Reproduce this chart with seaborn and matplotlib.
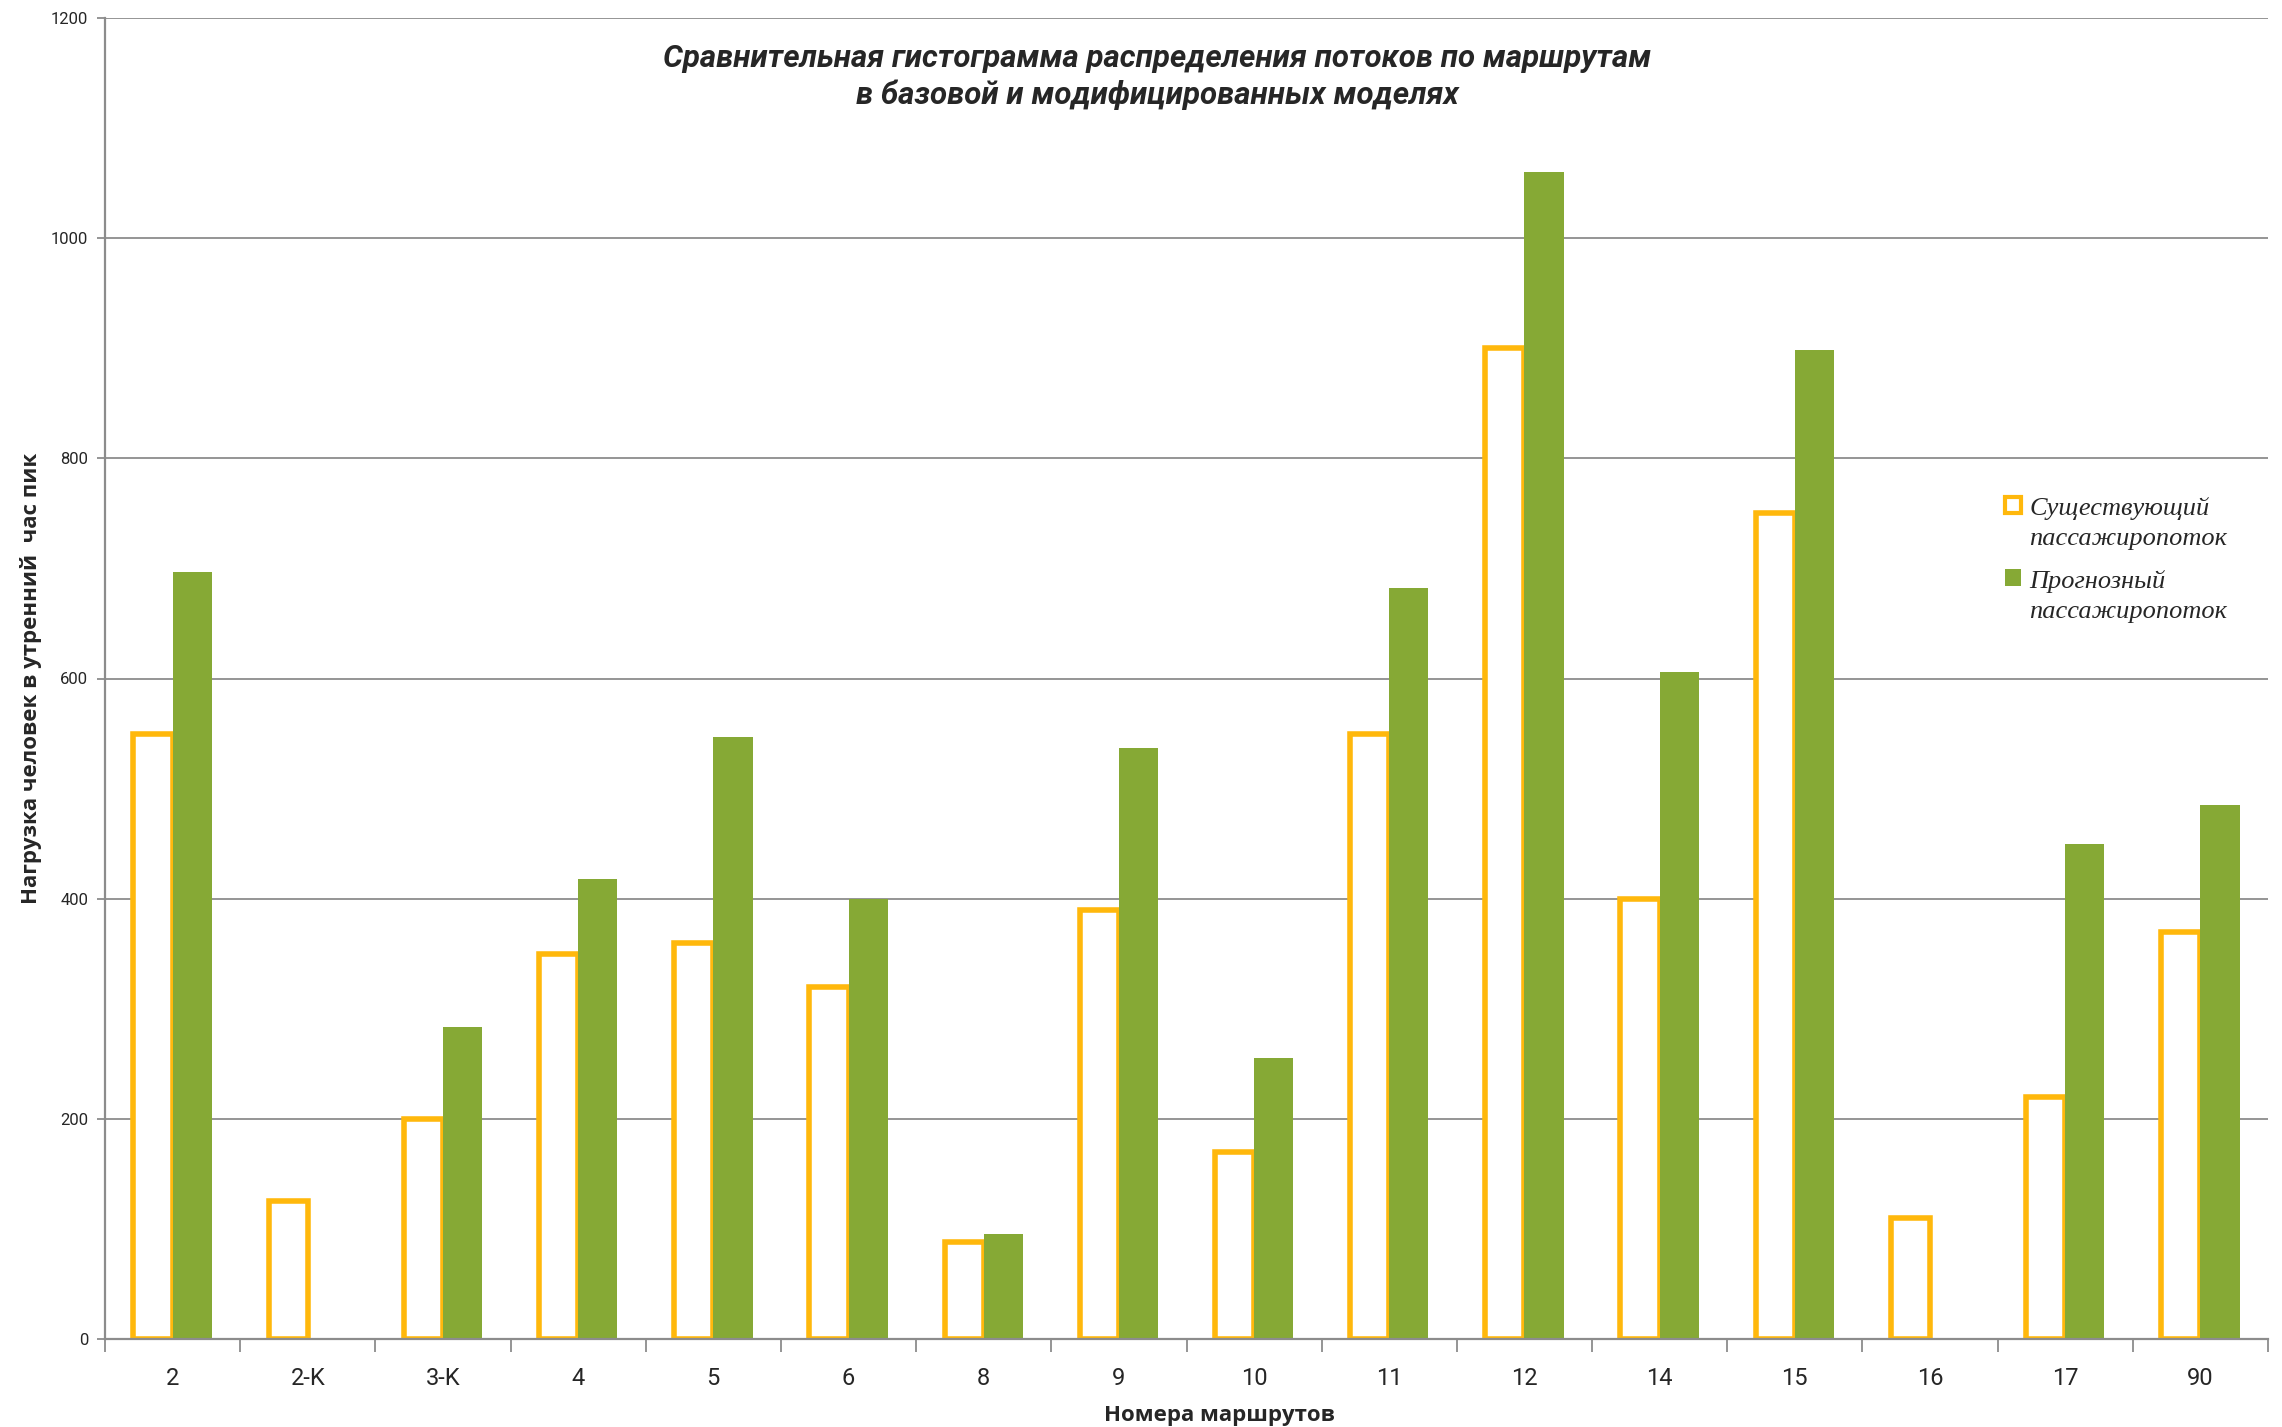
import numpy as np
import pandas as pd
import matplotlib
matplotlib.use('Agg')
import matplotlib.pyplot as plt
import seaborn as sns
from matplotlib.patches import Patch, Rectangle
from matplotlib.legend_handler import HandlerPatch
from matplotlib.ticker import FixedLocator

routes = ['2', '2-K', '3-K', '4', '5', '6', '8', '9', '10', '11', '12', '14', '15', '16', '17', '90']
existing = [550, 125, 200, 350, 360, 320, 88, 390, 170, 550, 900, 400, 750, 110, 220, 370]
forecast = [697, 0, 283, 418, 547, 400, 95, 537, 255, 682, 1060, 606, 898, 0, 450, 485]
series_names = ['Существующий\nпассажиропоток', 'Прогнозный\nпассажиропоток']

orange = '#FFB80C'
green = '#86A935'
gray = '#8C8C8C'

df = pd.DataFrame({
    'route': routes * 2,
    'value': existing + forecast,
    'series': [series_names[0]] * len(routes) + [series_names[1]] * len(routes),
})

sns.set_style('white')
plt.rcParams['font.family'] = ['Roboto', 'DejaVu Sans']

fig = plt.figure(figsize=(22.82, 14.27), dpi=100)
ax = fig.add_axes([105 / 2282, 1 - 1339 / 1427, 2163 / 2282, 1321 / 1427])

sns.barplot(data=df, x='route', y='value', hue='series', order=routes,
            hue_order=series_names, palette=[orange, green], width=0.58,
            saturation=1, legend=False, ax=ax)

# existing flow: hollow orange bars
for bar in ax.containers[0]:
    bar.set_facecolor('white')
    bar.set_edgecolor(orange)
    bar.set_linewidth(4)
for bar in ax.containers[1]:
    bar.set_edgecolor('none')

ax.set_ylim(0, 1200)
ax.set_xlim(-0.5, len(routes) - 0.5)
ax.set_yticks(np.arange(0, 1201, 200))
ax.yaxis.grid(True, color=gray, linewidth=1.3)
ax.set_axisbelow(True)

for s in ['top', 'right']:
    ax.spines[s].set_visible(False)
for s in ['left', 'bottom']:
    ax.spines[s].set_color(gray)
    ax.spines[s].set_linewidth(1.6)

ax.tick_params(axis='x', which='major', length=0, pad=20, labelsize=17)
ax.xaxis.set_minor_locator(FixedLocator(np.arange(-0.5, len(routes), 1)))
ax.tick_params(axis='x', which='minor', length=9, width=1.3, color=gray, bottom=True)
ax.tick_params(axis='y', length=6, width=1.3, color=gray, left=True, labelsize=12, pad=6)

ax.set_xlabel('Номера маршрутов', fontsize=16, fontweight='bold', family='Open Sans')
ax.xaxis.set_label_coords(0.515, -0.05)
ax.set_ylabel('Нагрузка человек в утренний  час пик', fontsize=16, fontweight='bold',
              family='Open Sans')
ax.yaxis.set_label_coords(-0.029, 0.5)

fig.text(0.507, 0.946,
         'Сравнительная гистограмма распределения потоков по маршрутам\nв базовой и модифицированных моделях',
         ha='center', va='center', fontsize=22.5, fontweight='bold', fontstyle='italic',
         linespacing=1.3)


# legend squares sit next to the first line of each label
def top_square(legend, orig_handle, xdescent, ydescent, width, height, fontsize):
    return Rectangle((-xdescent, -ydescent + 13), width, height)


handles = [Patch(facecolor='white', edgecolor=orange, linewidth=3),
           Patch(facecolor=green, edgecolor='none')]
leg = ax.legend(handles, series_names, loc='upper left', bbox_to_anchor=(0.8676, 0.655),
                frameon=False, handlelength=0.6, handleheight=0.6, handletextpad=0.3,
                labelspacing=0.75,
                handler_map={Patch: HandlerPatch(patch_func=top_square)},
                prop={'family': 'Liberation Serif', 'style': 'italic', 'size': 19})
for t in leg.get_texts():
    t.set_linespacing(1.45)

fig.savefig('out.png', dpi=100, facecolor='white')
